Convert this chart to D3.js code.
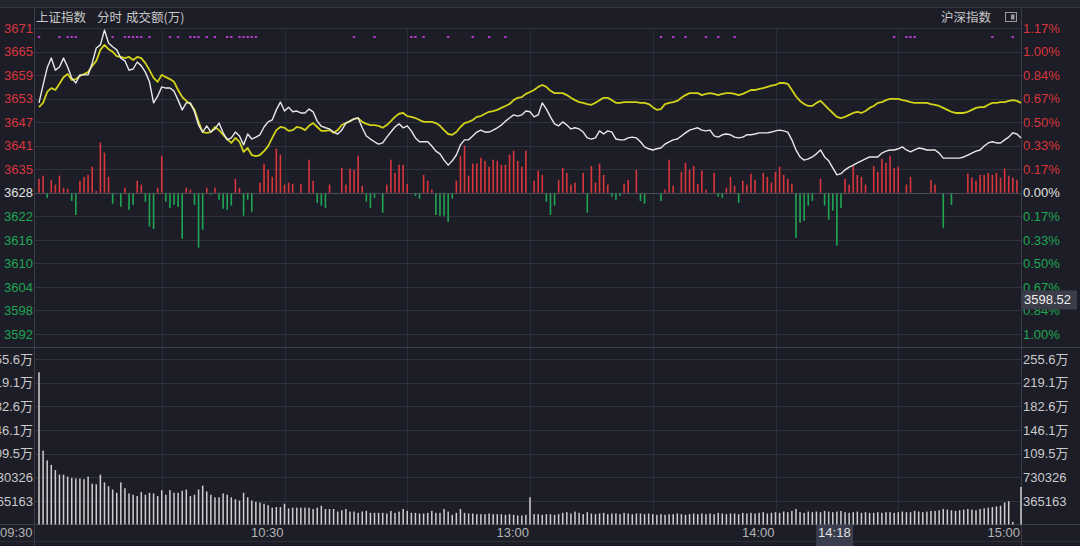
<!DOCTYPE html>
<html><head><meta charset="utf-8">
<script src="https://cdn.jsdelivr.net/npm/d3@7"></script>
<style>
html,body{margin:0;padding:0;background:#1c1d27;overflow:hidden;}
svg{display:block;font-family:"Liberation Sans",Arial,sans-serif;}
</style></head><body>
<svg id="c" width="1080" height="546"></svg>
<script>
// ---------------- data ----------------
const prevClose = 3628.5;
const priceTickLabels = ["3671","3665","3659","3653","3647","3641","3635","3628","3622","3616","3610","3604","3598","3592"];
const pctTickLabels = ["1.17%","1.00%","0.84%","0.67%","0.50%","0.33%","0.17%","0.00%","0.17%","0.33%","0.50%","0.67%","0.84%","1.00%"];
const pctTickValues = [1.1667,1.0,0.8333,0.6667,0.5,0.3333,0.1667,0,-0.1667,-0.3333,-0.5,-0.6667,-0.8333,-1.0];
const volTickValues = [255.6,219.1,182.6,146.1,109.5,73.0326,36.5163]; // 万
const volTickLabels = ["255.6万","219.1万","182.6万","146.1万","109.5万","730326","365163"];
const timeTickMinutes = [0,60,120,180,240];
const timeTickLabels = ["09:30","10:30","13:00","14:00","15:00"];
const gridMinutes = [30,60,90,120,150,180,210];
const cursorMinute = 198, cursorLabel = "14:18";
const cursorPrice = 3598.52;

// 上证指数 minute prices (m = 0..240)
const indexPrice = [3651.6,3656.2,3660.6,3663.1,3660.0,3660.8,3663.1,3660.8,3658.0,3656.7,
3658.8,3658.8,3658.8,3661.8,3665.7,3666.5,3670.3,3667.0,3666.0,3665.2,
3663.1,3662.4,3660.0,3660.3,3662.1,3661.1,3659.5,3657.0,3651.6,3653.3,
3655.7,3655.4,3655.4,3654.6,3652.3,3649.8,3651.6,3651.6,3649.3,3645.9,
3644.1,3645.7,3644.1,3644.9,3646.4,3643.9,3642.1,3642.6,3644.1,3643.1,
3640.8,3643.6,3642.3,3642.8,3643.4,3645.4,3646.7,3647.2,3649.8,3651.8,
3649.5,3650.5,3649.3,3649.5,3649.0,3649.0,3650.0,3649.3,3646.9,3645.6,
3645.2,3644.9,3644.1,3643.6,3644.6,3646.4,3646.9,3647.5,3647.7,3645.2,
3643.1,3642.3,3641.6,3641.0,3641.3,3642.8,3644.1,3645.4,3646.2,3645.2,
3645.7,3644.4,3642.6,3641.6,3641.6,3641.6,3640.5,3639.2,3638.5,3636.9,
3635.6,3636.7,3638.2,3640.8,3642.1,3642.1,3643.1,3644.1,3644.6,3644.1,
3644.1,3644.6,3645.2,3645.9,3646.9,3647.7,3648.5,3648.2,3648.5,3649.5,
3649.3,3648.0,3648.5,3651.6,3650.0,3648.0,3646.2,3645.7,3646.7,3645.9,
3644.9,3645.2,3644.9,3644.1,3642.6,3642.3,3642.6,3644.4,3643.6,3644.4,
3644.1,3642.3,3642.1,3642.1,3642.6,3642.8,3642.6,3641.6,3640.3,3639.8,
3639.5,3639.8,3640.0,3641.0,3641.6,3642.1,3642.3,3643.1,3643.9,3644.6,
3644.9,3645.2,3644.6,3644.4,3644.6,3643.1,3642.8,3643.4,3643.6,3643.4,
3642.8,3642.6,3642.8,3643.4,3643.4,3643.6,3643.9,3643.9,3643.9,3644.1,
3644.4,3644.6,3644.4,3644.1,3642.1,3639.5,3637.7,3636.9,3637.2,3637.7,
3638.5,3639.5,3637.7,3636.7,3634.9,3633.1,3633.4,3634.4,3635.1,3635.6,
3636.2,3636.7,3637.2,3637.7,3637.7,3637.7,3638.7,3639.2,3639.5,3639.5,
3639.8,3640.3,3639.5,3639.0,3639.5,3640.0,3639.8,3639.5,3639.5,3639.5,
3638.7,3637.4,3637.4,3637.4,3637.4,3637.4,3637.7,3638.2,3638.7,3639.2,
3639.5,3640.5,3641.3,3641.6,3641.3,3641.3,3642.1,3642.8,3643.9,3643.6,
3642.6];

// 沪深指数 (yellow) on the same scale
const refPrice = [3650.5,3651.6,3654.4,3655.4,3654.9,3656.5,3658.2,3659.0,3657.5,3657.7,
3658.5,3659.0,3659.5,3661.1,3662.4,3665.2,3666.5,3665.4,3664.7,3663.6,
3663.4,3663.1,3663.4,3662.6,3663.4,3663.1,3661.8,3660.0,3658.0,3657.0,
3658.8,3658.2,3657.7,3657.0,3654.9,3653.1,3652.1,3651.3,3649.8,3646.7,
3644.1,3643.9,3644.1,3645.4,3644.6,3643.4,3642.3,3641.3,3642.6,3641.6,
3639.0,3640.0,3638.2,3637.9,3638.2,3639.2,3640.5,3642.6,3644.6,3645.4,
3645.2,3644.4,3644.6,3645.4,3645.2,3644.6,3645.7,3646.4,3645.4,3644.4,
3644.4,3644.6,3643.9,3644.6,3645.9,3646.4,3646.9,3647.5,3647.7,3646.7,
3646.2,3645.9,3645.9,3645.7,3645.2,3645.9,3646.9,3648.0,3648.8,3649.0,
3648.2,3648.0,3647.7,3647.2,3646.7,3646.7,3646.7,3646.4,3645.7,3644.6,
3643.6,3643.4,3644.1,3645.4,3646.4,3646.7,3647.2,3648.0,3648.2,3648.8,
3649.3,3649.5,3649.8,3650.3,3650.8,3651.3,3652.3,3652.9,3653.1,3653.9,
3654.4,3654.9,3655.7,3656.2,3655.7,3654.7,3654.1,3654.1,3654.1,3653.6,
3652.9,3652.3,3651.8,3651.6,3651.3,3651.1,3651.6,3652.3,3652.9,3652.9,
3652.3,3651.6,3651.6,3651.8,3651.8,3651.8,3651.8,3651.6,3651.6,3651.3,
3650.5,3649.8,3650.0,3651.3,3651.6,3651.8,3652.1,3652.9,3653.6,3654.1,
3654.1,3654.1,3653.6,3653.9,3654.1,3653.9,3653.6,3653.9,3654.1,3654.1,
3653.9,3653.6,3653.9,3654.4,3654.9,3654.9,3655.2,3655.4,3655.7,3656.0,
3656.2,3656.7,3656.7,3656.5,3654.9,3653.3,3652.1,3651.3,3650.8,3650.8,
3651.6,3652.1,3651.1,3650.0,3649.0,3648.0,3647.7,3648.0,3648.5,3649.0,
3649.3,3649.0,3649.5,3650.3,3650.8,3651.6,3651.8,3652.3,3652.6,3652.6,
3652.6,3652.3,3652.1,3651.8,3651.6,3651.6,3651.6,3651.6,3651.3,3651.1,
3650.8,3650.3,3649.8,3649.3,3649.0,3649.0,3649.0,3649.3,3649.8,3650.3,
3650.5,3650.5,3651.1,3651.6,3651.6,3651.8,3651.8,3652.1,3652.3,3652.1,
3651.6];

// buy/sell strength bars (index points, + red / - green)
const flowMinute = [0,1,3,4,5,6,7,10,11,12,13,14,15,16,17,21,24,25,29,30,36,37,41,43,48,49,54,55,56,57,58,59,60,61,62,64,66,67,71,74,75,76,77,78,79,85,86,87,88,89,90,94,95,96,102,103,104,105,106,107,108,109,110,111,112,113,114,115,116,117,118,119,121,122,123,127,128,129,130,131,133,135,136,137,138,139,143,144,146,153,154,155,157,158,159,160,161,162,163,165,168,169,170,172,173,174,175,177,178,179,180,181,182,183,184,191,197,198,199,200,201,202,204,205,206,207,208,209,210,212,213,218,219,227,228,229,230,231,232,233,234,235,236,237,238,239,
2,8,9,18,20,22,23,26,27,28,31,32,33,34,35,38,39,40,42,44,45,46,47,50,51,52,68,69,70,80,81,82,84,92,93,97,98,99,100,101,124,125,126,134,140,141,142,147,148,152,166,167,171,185,186,187,188,189,192,193,194,195,196,221,223];
const flowValue = [3.6,4.4,3.3,2.1,4.4,1.3,1.0,3.1,4.1,4.6,6.7,0.5,12.9,10.3,4.1,1.3,3.1,2.1,1.3,9.5,1.3,0.8,1.3,1.3,3.6,1.3,2.6,7.5,5.9,4.1,11.3,9.8,2.1,2.6,2.3,2.3,8.5,3.1,2.1,6.4,2.1,6.2,5.9,9.5,1.8,2.1,8.5,5.1,7.2,7.2,2.3,4.6,3.1,0.8,3.1,9.5,12.1,4.4,7.5,7.5,9.0,8.2,6.7,8.5,8.2,7.2,7.2,9.8,10.8,8.2,6.7,10.8,3.1,5.7,4.6,3.3,6.4,5.1,2.1,2.6,5.1,6.9,2.6,7.5,4.6,2.1,2.3,3.3,5.9,0.8,8.5,1.8,5.4,7.7,5.9,6.9,2.3,5.7,0.8,5.1,1.3,4.1,1.8,3.1,2.1,4.9,3.3,5.1,4.1,2.6,5.4,6.7,4.6,3.6,2.3,3.6,3.6,2.1,6.9,4.6,4.1,2.1,6.9,5.4,8.7,7.7,9.5,6.4,6.7,2.1,4.1,3.3,2.1,4.9,3.9,3.1,4.6,4.6,5.1,4.6,5.1,3.9,6.2,4.4,3.9,3.3,
-1.3,-2.1,-5.7,-2.8,-3.6,-4.4,-3.1,-2.3,-8.7,-9.3,-2.3,-3.9,-3.1,-3.6,-11.8,-3.1,-14.1,-9.5,-0.5,-1.8,-4.1,-4.4,-3.3,-5.9,-1.8,-4.9,-2.6,-3.3,-3.9,-2.3,-3.9,-1.3,-5.1,-0.8,-1.5,-5.7,-5.9,-5.9,-7.5,-1.5,-2.3,-5.7,-3.3,-5.1,-1.0,-1.8,-0.8,-2.1,-2.8,-2.1,-1.0,-1.3,-2.6,-11.6,-7.7,-7.2,-3.3,-2.1,-3.3,-6.9,-4.6,-13.6,-3.9,-9.0,-3.1];

// 成交额 per minute, 万
const volume = [235,114,99,92,84,77,77,74,72,71,71,70,74,63,62,77,65,59,54,49,
65,56,48,46,44,50,46,49,48,44,53,46,53,49,49,52,54,44,46,54,
60,51,46,42,42,48,46,42,39,37,49,42,37,35,34,32,30,26,27,27,
32,25,26,26,26,26,26,24,26,29,24,24,24,20,22,24,20,20,18,20,
21,18,18,18,18,17,21,18,20,24,21,18,18,17,17,18,21,18,18,24,
20,15,18,24,18,17,17,16,16,16,17,16,16,16,15,16,15,14,14,15,
42,16,16,15,16,16,15,16,18,19,17,20,18,16,19,17,16,17,18,16,
17,17,16,18,17,16,17,17,16,17,16,15,16,15,16,16,17,16,15,16,
17,16,17,16,17,16,18,17,16,17,17,16,18,17,18,17,18,19,17,18,
19,18,20,19,21,24,19,18,20,19,20,19,21,20,19,20,21,19,18,19,
20,18,19,18,18,19,18,19,19,18,19,20,19,19,21,20,19,20,21,21,
22,24,23,22,21,22,23,24,23,22,24,25,26,27,28,29,34,36,4,0,58];

// 大单 markers (minutes)
const dotMinutes = [0,5,7,8,9,18,21,22,23,24,25,27,32,34,37,38,39,41,43,46,47,49,50,51,52,53,77,82,91,92,94,100,106,110,114,152,155,158,163,166,170,209,212,213,214,233,238];

// ---------------- drawing ----------------
const svg = d3.select("#c");
const C = {bg:"#1c1d27", grid:"#30323f", vgrid:"#2a2c38", border:"#3a3c4a", red:"#d8363c", green:"#1fa653",
           white:"#e0e0e0", text:"#cacaca", yellow:"#d2d21a", line:"#e8e8e8", bar:"#cfcfcf", dot:"#b43cc8"};
const L = 34, R = 1021;
const FS = 13;
const x = d3.scaleLinear().domain([0,240]).range([39,1021]);
const yPct = d3.scaleLinear().domain([-1, 7/6]).range([334,28]);
const yPrice = d3.scaleLinear().domain([prevClose*0.99, prevClose*(1+7/600)]).range([334,28]);
const yVol = d3.scaleLinear().domain([0,255.6]).range([524.5,359]);

svg.append("rect").attr("width",1080).attr("height",546).attr("fill",C.bg);
// top toolbar strip
svg.append("rect").attr("x",0).attr("y",0).attr("width",1080).attr("height",7).attr("fill","#22242e");
svg.append("line").attr("x1",0).attr("x2",1080).attr("y1",7.5).attr("y2",7.5).attr("stroke","#34363f");

// horizontal grid (price)
svg.append("g").selectAll("line").data(pctTickValues).join("line")
  .attr("x1",L).attr("x2",R).attr("y1",d=>Math.round(yPct(d))+0.5).attr("y2",d=>Math.round(yPct(d))+0.5)
  .attr("stroke",C.grid).attr("stroke-width",1);
// horizontal grid (volume)
svg.append("g").selectAll("line").data(volTickValues).join("line")
  .attr("x1",L).attr("x2",R).attr("y1",d=>Math.round(yVol(d))+0.5).attr("y2",d=>Math.round(yVol(d))+0.5)
  .attr("stroke",C.grid);
// vertical grid
svg.append("g").selectAll("line").data(gridMinutes).join("line")
  .attr("x1",d=>Math.round(x(d))+0.5).attr("x2",d=>Math.round(x(d))+0.5)
  .attr("y1",28).attr("y2",524).attr("stroke",C.vgrid);

// panel borders
svg.append("line").attr("x1",L+0.5).attr("x2",L+0.5).attr("y1",8).attr("y2",546).attr("stroke",C.border);
svg.append("line").attr("x1",R+0.5).attr("x2",R+0.5).attr("y1",8).attr("y2",546).attr("stroke",C.border);
svg.append("line").attr("x1",0).attr("x2",1080).attr("y1",347.5).attr("y2",347.5).attr("stroke",C.border);
svg.append("line").attr("x1",0).attr("x2",1080).attr("y1",524.5).attr("y2",524.5).attr("stroke",C.border);
svg.append("line").attr("x1",0).attr("x2",1080).attr("y1",541.5).attr("y2",541.5).attr("stroke","#2c2e3a");

// strength bars
const base = yPrice(prevClose);
svg.append("g").selectAll("rect").data(flowMinute.map((m,i)=>({m,v:flowValue[i]}))).join("rect")
  .attr("x",d=>x(d.m)-0.8).attr("width",1.6)
  .attr("y",d=>d.v>0?yPrice(prevClose+d.v):base)
  .attr("height",d=>Math.abs(yPrice(prevClose+d.v)-base))
  .attr("fill",d=>d.v>0?C.red:C.green);
// zero line
svg.append("line").attr("x1",L).attr("x2",R).attr("y1",Math.round(base)+0.5).attr("y2",Math.round(base)+0.5)
  .attr("stroke","#4a4c58").attr("stroke-width",1);

// lines
const lineGen = d3.line().x((d,i)=>x(i)).y(d=>yPrice(d));
svg.append("path").datum(refPrice).attr("d",lineGen).attr("fill","none").attr("stroke",C.yellow).attr("stroke-width",1.8).attr("stroke-linejoin","round");
svg.append("path").datum(indexPrice).attr("d",lineGen).attr("fill","none").attr("stroke",C.line).attr("stroke-width",1.4).attr("stroke-linejoin","round");

// dots
svg.append("g").selectAll("rect").data(dotMinutes).join("rect")
  .attr("x",d=>x(d)-1.2).attr("y",36).attr("width",2.4).attr("height",2).attr("fill",C.dot);

// volume bars
svg.append("g").selectAll("rect").data(volume).join("rect")
  .attr("x",(d,i)=>x(i)-0.75).attr("width",1.5)
  .attr("y",d=>yVol(d)).attr("height",d=>yVol(0)-yVol(d)).attr("fill",C.bar);

// left price axis
const colorFor = i => i<7?C.red:(i===7?C.white:C.green);
const axL = d3.axisLeft(yPct).tickValues(pctTickValues).tickSize(0).tickPadding(0)
  .tickFormat((d,i)=>priceTickLabels[i]);
const gL = svg.append("g").attr("transform",`translate(${L-1},0)`).call(axL);
gL.select(".domain").remove();
gL.selectAll("text").attr("fill",(d,i)=>colorFor(i)).attr("font-size",FS).attr("font-family","Liberation Sans, Arial, sans-serif");
// right pct axis
const axR = d3.axisRight(yPct).tickValues(pctTickValues).tickSize(0).tickPadding(0)
  .tickFormat((d,i)=>pctTickLabels[i]);
const gR = svg.append("g").attr("transform",`translate(${R+2},0)`).call(axR);
gR.select(".domain").remove();
gR.selectAll("text").attr("fill",(d,i)=>colorFor(i)).attr("font-size",FS).attr("font-family","Liberation Sans, Arial, sans-serif");

// volume axes
const axVL = d3.axisLeft(yVol).tickValues(volTickValues).tickSize(0).tickPadding(0).tickFormat((d,i)=>volTickLabels[i]);
const gVL = svg.append("g").attr("transform",`translate(${L-1},0)`).call(axVL);
gVL.select(".domain").remove();
gVL.selectAll("text").attr("fill",C.text).attr("font-size",FS).attr("font-family","Liberation Sans, Noto Sans CJK SC, sans-serif");
const axVR = d3.axisRight(yVol).tickValues(volTickValues).tickSize(0).tickPadding(0).tickFormat((d,i)=>volTickLabels[i]);
const gVR = svg.append("g").attr("transform",`translate(${R+2},0)`).call(axVR);
gVR.select(".domain").remove();
gVR.selectAll("text").attr("fill",C.text).attr("font-size",FS).attr("font-family","Liberation Sans, Noto Sans CJK SC, sans-serif");

// time axis
svg.append("g").selectAll("text").data(timeTickMinutes).join("text")
  .attr("x",(d,i)=>i===0?0:x(d)-1).attr("y",537)
  .attr("text-anchor",(d,i)=>i===0?"start":"end")
  .attr("fill","#b4b4b4").attr("font-size",FS)
  .text((d,i)=>timeTickLabels[i]);
// cursor time label
svg.append("rect").attr("x",x(cursorMinute)-33).attr("y",525).attr("width",37).attr("height",21).attr("fill","#3a3d4e");
svg.append("text").attr("x",x(cursorMinute)+1.5).attr("y",537).attr("text-anchor","end")
  .attr("fill","#e0e0e0").attr("font-size",FS).text(cursorLabel);
// cursor price label
const cy = yPrice(cursorPrice);
svg.append("rect").attr("x",R+1).attr("y",cy-19).attr("width",55).attr("height",19).attr("fill","#3b3d48");
svg.append("text").attr("x",R+3).attr("y",cy-5).attr("fill","#f0f0f0").attr("font-size",FS).text(cursorPrice.toFixed(2));

// header
const hf = "Noto Sans CJK SC, sans-serif";
svg.append("text").attr("x",36).attr("y",22).attr("fill","#c8c8c8").attr("font-size",12.5).attr("font-family",hf).text("上证指数");
svg.append("text").attr("x",97).attr("y",22).attr("fill","#c8c8c8").attr("font-size",12.5).attr("font-family",hf).text("分时");
svg.append("text").attr("x",126).attr("y",22).attr("fill","#c8c8c8").attr("font-size",12.5).attr("font-family",hf).text("成交额(万)");
svg.append("text").attr("x",941).attr("y",22).attr("fill","#c8c8c8").attr("font-size",12.5).attr("font-family",hf).text("沪深指数");
svg.append("rect").attr("x",1005.5).attr("y",12.5).attr("width",11).attr("height",9).attr("fill","none").attr("stroke","#9a9a9a");
svg.append("rect").attr("x",1011).attr("y",14.5).attr("width",3.5).attr("height",5).attr("fill","#9a9a9a");
</script>
</body></html>
